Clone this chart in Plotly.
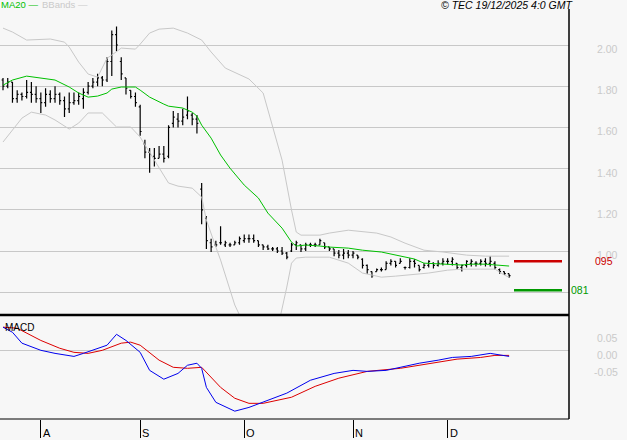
import plotly.graph_objects as go
import pandas as pd

# ---------------- data ----------------
dates = pd.bdate_range("2025-07-22", "2025-12-18")  # trading days shown

high = [1.84, 1.84, 1.82, 1.78, 1.77, 1.83, 1.82, 1.80, 1.77, 1.79,
        1.78, 1.80, 1.77, 1.75, 1.77, 1.77, 1.77, 1.79, 1.82, 1.84,
        1.86, 1.85, 1.94, 2.07, 2.09, 1.94, 1.84, 1.78, 1.77, 1.71,
        1.54, 1.50, 1.50, 1.51, 1.51, 1.61, 1.68, 1.67, 1.69, 1.75,
        1.67, 1.66, 1.33, 1.17, 1.06, 1.05, 1.12, 1.05, 1.04, 1.05,
        1.07, 1.08, 1.08, 1.08, 1.05, 1.03, 1.03, 1.02, 1.02, 1.02,
        0.995, 1.04, 1.05, 1.03, 1.04, 1.04, 1.04, 1.06, 1.04, 1.02,
        1.01, 1.005, 1.01, 1.005, 1.00, 0.98, 0.965, 0.935, 0.90, 0.915,
        0.92, 0.95, 0.96, 0.95, 0.965, 0.925, 0.965, 0.96, 0.93, 0.94,
        0.955, 0.945, 0.955, 0.965, 0.965, 0.97, 0.94, 0.935, 0.955, 0.96,
        0.95, 0.96, 0.965, 0.975, 0.95, 0.915, 0.90, 0.89]
low = [1.78, 1.79, 1.72, 1.72, 1.73, 1.74, 1.72, 1.72, 1.67, 1.70,
       1.72, 1.72, 1.71, 1.65, 1.67, 1.71, 1.71, 1.69, 1.76, 1.79,
       1.80, 1.80, 1.82, 1.85, 1.97, 1.83, 1.76, 1.74, 1.70, 1.56,
       1.45, 1.38, 1.41, 1.45, 1.43, 1.45, 1.60, 1.60, 1.61, 1.64,
       1.61, 1.57, 1.13, 1.01, 0.995, 1.02, 1.03, 1.02, 1.02, 1.03,
       1.03, 1.04, 1.04, 1.04, 1.02, 1.005, 1.005, 1.00, 0.99, 0.98,
       0.96, 0.995, 1.005, 0.995, 1.00, 1.02, 1.02, 1.03, 1.01, 1.00,
       0.975, 0.965, 0.96, 0.965, 0.965, 0.96, 0.915, 0.89, 0.87, 0.90,
       0.90, 0.91, 0.93, 0.92, 0.94, 0.91, 0.915, 0.92, 0.90, 0.915,
       0.92, 0.915, 0.925, 0.93, 0.935, 0.93, 0.91, 0.90, 0.92, 0.925,
       0.925, 0.93, 0.925, 0.925, 0.91, 0.89, 0.885, 0.87]
open_ = [1.83, 1.80, 1.82, 1.74, 1.76, 1.75, 1.77, 1.76, 1.74, 1.72,
         1.76, 1.74, 1.76, 1.73, 1.69, 1.72, 1.73, 1.74, 1.77, 1.80,
         1.82, 1.84, 1.83, 1.92, 2.05, 1.92, 1.84, 1.78, 1.75, 1.70,
         1.52, 1.48, 1.46, 1.45, 1.47, 1.46, 1.62, 1.64, 1.63, 1.66,
         1.66, 1.64, 1.30, 1.16, 1.04, 1.03, 1.04, 1.03, 1.03, 1.03,
         1.04, 1.05, 1.06, 1.06, 1.05, 1.03, 1.02, 1.01, 1.01, 1.00,
         0.99, 1.00, 1.03, 1.03, 1.01, 1.03, 1.03, 1.03, 1.04, 1.02,
         1.01, 0.99, 0.98, 0.99, 0.98, 0.98, 0.96, 0.93, 0.90, 0.90,
         0.91, 0.91, 0.94, 0.95, 0.94, 0.92, 0.92, 0.95, 0.93, 0.92,
         0.93, 0.94, 0.93, 0.94, 0.95, 0.95, 0.94, 0.92, 0.93, 0.94,
         0.94, 0.94, 0.95, 0.94, 0.94, 0.91, 0.90, 0.89]
close = [1.80, 1.82, 1.74, 1.76, 1.75, 1.77, 1.76, 1.74, 1.72, 1.76,
         1.74, 1.76, 1.73, 1.69, 1.72, 1.73, 1.75, 1.77, 1.80, 1.82,
         1.84, 1.83, 1.92, 2.05, 2.00, 1.86, 1.79, 1.75, 1.72, 1.58,
         1.48, 1.47, 1.45, 1.47, 1.45, 1.60, 1.65, 1.63, 1.65, 1.68,
         1.64, 1.62, 1.20, 1.05, 1.02, 1.03, 1.04, 1.04, 1.03, 1.04,
         1.06, 1.06, 1.06, 1.05, 1.03, 1.02, 1.01, 1.01, 1.00, 0.99,
         0.97, 1.03, 1.04, 1.01, 1.03, 1.03, 1.03, 1.05, 1.02, 1.01,
         0.99, 0.98, 0.99, 0.98, 0.99, 0.97, 0.93, 0.91, 0.88, 0.91,
         0.91, 0.94, 0.95, 0.93, 0.95, 0.92, 0.95, 0.94, 0.91, 0.93,
         0.95, 0.93, 0.94, 0.95, 0.95, 0.96, 0.92, 0.93, 0.95, 0.95,
         0.94, 0.95, 0.94, 0.95, 0.92, 0.90, 0.89, 0.88]

# MA20 (at selected bars)
ma_idx = [0, 2, 5, 8, 11, 14, 16, 18, 20, 22, 23, 25, 28, 29, 31, 34, 35, 38,
          40, 41, 42, 44, 46, 48, 51, 54, 56, 59, 61, 62, 64, 67, 69, 73, 76,
          80, 83, 87, 89, 94, 97, 99, 102, 107]
ma_val = [1.805, 1.830, 1.849, 1.839, 1.830, 1.796, 1.767, 1.747, 1.752, 1.767,
          1.786, 1.796, 1.796, 1.781, 1.747, 1.713, 1.703, 1.694, 1.674, 1.655,
          1.611, 1.548, 1.466, 1.402, 1.320, 1.257, 1.184, 1.111, 1.043, 1.024,
          1.029, 1.024, 1.019, 1.014, 1.004, 0.995, 0.980, 0.961, 0.941, 0.936,
          0.932, 0.936, 0.936, 0.927]

# Bollinger bands
bbu_idx = [0, 2, 5, 10, 13, 14, 16, 18, 20, 21, 22, 23, 25, 28, 29, 31, 33, 36,
           39, 42, 44, 47, 50, 52, 55, 57, 59, 61, 62, 63, 67, 69, 73, 79, 82,
           85, 89, 93, 95, 98, 102, 107]
bbu_val = [2.082, 2.063, 2.024, 2.029, 2.014, 1.990, 1.917, 1.859, 1.844, 1.888,
           1.936, 1.951, 1.985, 1.980, 2.004, 2.058, 2.077, 2.082, 2.058, 2.024,
           1.966, 1.888, 1.854, 1.835, 1.767, 1.601, 1.441, 1.199, 1.092, 1.077,
           1.077, 1.087, 1.101, 1.087, 1.068, 1.038, 1.004, 0.995, 0.990, 0.980,
           0.975, 0.975]
bbl_idx = [0, 2, 4, 6, 9, 11, 14, 16, 18, 21, 23, 24, 27, 29, 32, 35, 37, 40,
           42, 43, 45, 46, 49, 52, 55, 58, 60, 61, 62, 64, 69, 73, 76, 80, 83,
           87, 90, 94, 97, 101, 104, 106, 107]
bbl_val = [1.529, 1.587, 1.645, 1.674, 1.660, 1.636, 1.592, 1.621, 1.670, 1.670,
           1.626, 1.602, 1.602, 1.553, 1.441, 1.330, 1.315, 1.305, 1.262, 1.150,
           1.019, 0.956, 0.738, 0.592, 0.543, 0.616, 0.825, 0.941, 0.966, 0.970,
           0.970, 0.941, 0.893, 0.873, 0.878, 0.888, 0.893, 0.907, 0.912, 0.912,
           0.912, 0.883, 0.873]

# MACD and signal
macd_idx = [0, 2, 4, 8, 11, 15, 17, 20, 22, 24, 26, 29, 31, 34, 37, 39, 41, 42,
            43, 45, 49, 52, 55, 60, 65, 70, 74, 77, 81, 84, 88, 92, 95, 99,
            103, 107]
macd_val = [0.068, 0.053, 0.021, 0.0, -0.009, -0.018, -0.009, 0.006, 0.015,
            0.047, 0.029, -0.006, -0.059, -0.085, -0.068, -0.044, -0.038,
            -0.053, -0.109, -0.153, -0.179, -0.168, -0.153, -0.126, -0.088,
            -0.068, -0.059, -0.062, -0.059, -0.050, -0.038, -0.029, -0.021,
            -0.018, -0.009, -0.018]
sig_idx = [0, 3, 8, 12, 15, 18, 21, 25, 27, 29, 33, 36, 39, 42, 46, 49, 52, 55,
           61, 66, 71, 77, 84, 91, 96, 101, 104, 107]
sig_val = [0.068, 0.065, 0.029, 0.006, -0.006, -0.009, 0.0, 0.021, 0.024,
           0.015, -0.029, -0.050, -0.053, -0.050, -0.109, -0.141, -0.156,
           -0.156, -0.138, -0.106, -0.082, -0.062, -0.053, -0.038, -0.026,
           -0.021, -0.015, -0.015]

price_ticks = [2.0, 1.8, 1.6, 1.4, 1.2, 1.0]
price_ticktext = ["2.00", "1.80", "1.60", "1.40", "1.20", "1.00"]
price_grid = [2.0, 1.8, 1.6, 1.4, 1.2, 1.0, 0.8]
macd_ticks = [0.05, 0.0, -0.05]
macd_ticktext = ["0.05", "0.00", "-0.05"]
resistance = 0.95
resistance_text = "095"
support = 0.81
support_text = "081"
month_letters = ["A", "S", "O", "N", "D"]
stamp = "© TEC 19/12/2025 4:0 GMT"

# ---------------- figure ----------------
W, H = 627, 440
xi = list(range(len(dates)))
month_idx = []
seen = set()
for i, d in enumerate(dates):
    key = (d.year, d.month)
    if key not in seen:
        seen.add(key)
        if i > 0:
            month_idx.append(i)

XR = 569 / W
FONT = "Liberation Sans, Arial, sans-serif"
LABEL_GRAY = "#cacaca"

def py(ypix):
    return (H - ypix) / H

fig = go.Figure()
fig.add_trace(go.Ohlc(x=xi, open=open_, high=high, low=low, close=close,
                      increasing=dict(line=dict(color="black", width=1.2)),
                      decreasing=dict(line=dict(color="black", width=1.2)),
                      tickwidth=0.3, xaxis="x", yaxis="y", hoverinfo="skip"))
fig.add_trace(go.Scatter(x=bbu_idx, y=bbu_val, mode="lines",
                         line=dict(color="#c8c8c8", width=1), xaxis="x", yaxis="y"))
fig.add_trace(go.Scatter(x=bbl_idx, y=bbl_val, mode="lines",
                         line=dict(color="#c8c8c8", width=1), xaxis="x", yaxis="y"))
fig.add_trace(go.Scatter(x=ma_idx, y=ma_val, mode="lines",
                         line=dict(color="#00c000", width=1), xaxis="x", yaxis="y"))
fig.add_trace(go.Scatter(x=sig_idx, y=sig_val, mode="lines",
                         line=dict(color="#dd0000", width=1), xaxis="x2", yaxis="y2"))
fig.add_trace(go.Scatter(x=macd_idx, y=macd_val, mode="lines",
                         line=dict(color="#0000ee", width=1), xaxis="x2", yaxis="y2"))

# x range so that bar 0 sits at x=3px, 4.73 px per bar
xr = [-3 / 4.73, (569 - 3) / 4.73]
# price axis: 2.00 at y=45, 206 px per unit; panel from y=9 to y=315
yr = [2.0 - (315 - 45) / 206, 2.0 + (45 - 9) / 206]
# macd axis: 0 at y=350.3, 340 px per unit; panel from y=315 to y=419
mr = [-(419 - 350.3) / 340, (350.3 - 315) / 340]

fig.update_layout(
    width=W, height=H,
    margin=dict(l=0, r=0, t=0, b=0),
    paper_bgcolor="#f7f7f7", plot_bgcolor="#f7f7f7",
    showlegend=False,
    hovermode=False,
    xaxis=dict(domain=[0, XR], range=xr, anchor="y", showgrid=False,
               zeroline=False, showticklabels=False, ticks="",
               rangeslider=dict(visible=False), fixedrange=True),
    yaxis=dict(domain=[py(315), py(9)], range=yr, anchor="x",
               tickvals=price_grid, showticklabels=False, showgrid=True,
               gridcolor="#c8c8c8", gridwidth=1, zeroline=False, ticks=""),
    xaxis2=dict(domain=[0, XR], range=xr, anchor="y2", showgrid=False,
                zeroline=False, showticklabels=False, ticks="outside",
                ticklen=18, tickwidth=1, tickcolor="black",
                tickvals=month_idx),
    yaxis2=dict(domain=[py(419), py(315)], range=mr, anchor="x2",
                tickvals=[0.0], showticklabels=False, showgrid=True,
                gridcolor="#c8c8c8", gridwidth=1, zeroline=False, ticks=""),
)

shapes = [
    dict(type="line", xref="paper", yref="paper", x0=0, x1=XR,
         y0=py(315), y1=py(315), line=dict(color="black", width=2.5)),
    dict(type="line", xref="paper", yref="paper", x0=0, x1=XR,
         y0=py(419), y1=py(419), line=dict(color="black", width=1)),
    dict(type="line", xref="paper", yref="paper", x0=XR, x1=XR,
         y0=py(419), y1=py(9), line=dict(color="black", width=1.5)),
    dict(type="line", xref="paper", yref="y", x0=514 / W, x1=562 / W,
         y0=resistance, y1=resistance, line=dict(color="#cc0000", width=2.5)),
    dict(type="line", xref="paper", yref="y", x0=514 / W, x1=562 / W,
         y0=support, y1=support, line=dict(color="#009900", width=2.5)),
]
fig.update_layout(shapes=shapes)

ann = []
for v, t in zip(price_ticks, price_ticktext):
    ann.append(dict(x=620 / W, xref="paper", y=v, yref="y", text=t,
                    xanchor="right", yanchor="middle", yshift=-4,
                    showarrow=False,
                    font=dict(family=FONT, size=10.5, color=LABEL_GRAY)))
for v, t in zip(macd_ticks, macd_ticktext):
    ann.append(dict(x=620 / W, xref="paper", y=v, yref="y2", text=t,
                    xanchor="right", yanchor="middle", yshift=-5,
                    showarrow=False,
                    font=dict(family=FONT, size=10.5, color=LABEL_GRAY)))
ann.append(dict(x=593 / W, xref="paper", y=resistance, yref="y",
                text=resistance_text, xanchor="left", yanchor="middle",
                showarrow=False, font=dict(family=FONT, size=10.5, color="#cc0000")))
ann.append(dict(x=569 / W, xref="paper", y=support, yref="y",
                text=support_text, xanchor="left", yanchor="middle",
                showarrow=False, font=dict(family=FONT, size=10.5, color="#009900")))
for i, t in zip(month_idx, month_letters):
    ann.append(dict(x=i, xref="x2", y=py(433), yref="paper", text=t,
                    xanchor="left", yanchor="middle", xshift=0,
                    showarrow=False, font=dict(family=FONT, size=11, color="black")))
ann.append(dict(x=3 / W, xref="paper", y=py(327), yref="paper", text="MACD",
                xanchor="left", yanchor="middle", showarrow=False,
                font=dict(family=FONT, size=10, color="black")))
ann.append(dict(x=-1 / W, xref="paper", y=py(4.5), yref="paper", text="MA20 —",
                xanchor="left", yanchor="middle", showarrow=False,
                font=dict(family=FONT, size=9.5, color="#00c000")))
ann.append(dict(x=40 / W, xref="paper", y=py(4.5), yref="paper", text="BBands —",
                xanchor="left", yanchor="middle", showarrow=False,
                font=dict(family=FONT, size=9.5, color=LABEL_GRAY)))
ann.append(dict(x=575 / W, xref="paper", y=py(4.5), yref="paper",
                text="<i>" + stamp + "</i>", xanchor="right", yanchor="middle",
                showarrow=False, font=dict(family=FONT, size=10.5, color="black")))
fig.update_layout(annotations=ann)

fig.write_html("out.html",
               config={"displayModeBar": False, "staticPlot": True},
               post_script="document.body.style.margin='0';"
                           "document.body.style.background='#f7f7f7';")
